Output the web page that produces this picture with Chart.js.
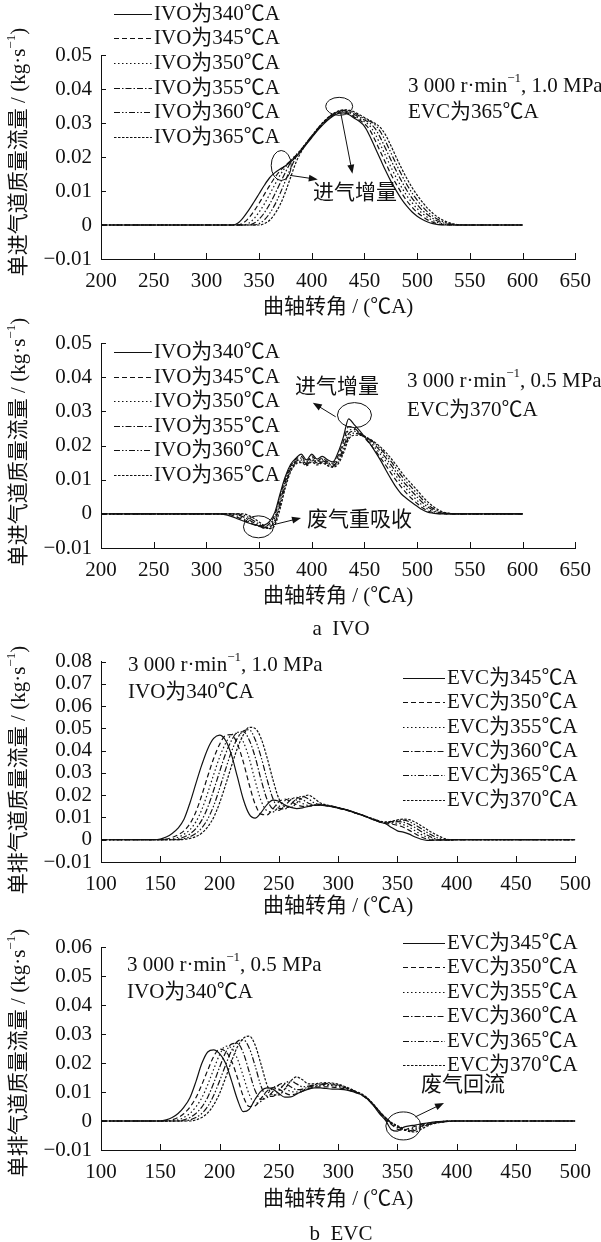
<!DOCTYPE html>
<html>
<head>
<meta charset="utf-8">
<title>IVO / EVC mass flow</title>
<script src="https://cdn.jsdelivr.net/npm/chart.js@4.4.1/dist/chart.umd.min.js"></script>
<style>
  html, body { margin: 0; padding: 0; background: #fff; }
  #fig { position: relative; width: 601px; height: 1242px; overflow: hidden; }
  #fig canvas { position: absolute; left: 0; }
  .cap {
    position: absolute; left: 241px; width: 200px; text-align: center;
    font: 21px "Liberation Serif", "Noto Sans CJK SC", serif; color: #111; line-height: 24px;
  }
</style>
</head>
<body>
<div id="fig">
  <canvas id="a1" width="601" height="318" style="top:0"></canvas>
  <canvas id="a2" width="601" height="300" style="top:318px"></canvas>
  <div class="cap" style="top:616px">a&nbsp;&nbsp;IVO</div>
  <canvas id="b1" width="601" height="280" style="top:640px"></canvas>
  <canvas id="b2" width="601" height="300" style="top:920px"></canvas>
  <div class="cap" style="top:1221px">b&nbsp;&nbsp;EVC</div>
</div>
<script>
/* ---------------------------------------------------------
   Data (kg/s vs crank angle)
--------------------------------------------------------- */
const IVO_LABELS = ["IVO为340℃A", "IVO为345℃A", "IVO为350℃A", "IVO为355℃A", "IVO为360℃A", "IVO为365℃A"];
const EVC_LABELS = ["EVC为345℃A", "EVC为350℃A", "EVC为355℃A", "EVC为360℃A", "EVC为365℃A", "EVC为370℃A"];

const A_X_RANGE = [200, 650];
const B_X_RANGE = [100, 500];
const A_Y_RANGE = [-0.01, 0.05];
const B1_Y_RANGE = [-0.01, 0.08];
const B2_Y_RANGE = [-0.01, 0.06];

// a) IVO sweep, 1.0 MPa
const A1_DEG = [200,
  320, 325, 330, 335, 340, 345, 350, 355, 360, 365,
  370, 375, 380, 385, 390, 395, 400, 405, 410, 415,
  420, 425, 430, 435, 440, 445, 450, 455, 460, 465,
  470, 475, 480, 485, 490, 495, 500, 505, 510, 515,
  520, 525, 530, 535, 540, 545, 550,
  600];
const A1_IVO340 = [0,
  0, 0, 0.0006, 0.0022, 0.0043, 0.0067, 0.0092, 0.0117, 0.0139, 0.0154,
  0.0165, 0.0174, 0.0186, 0.0200, 0.0218, 0.0238, 0.0257, 0.0276, 0.0293, 0.0308,
  0.0320, 0.0328, 0.0330, 0.0325, 0.0315, 0.0305, 0.0290, 0.0262, 0.0228, 0.0194,
  0.0160, 0.0129, 0.0102, 0.0077, 0.0056, 0.0039, 0.0026, 0.0016, 0.0009, 0.0004,
  0.0001, 0, 0, 0, 0, 0, 0,
  0];
const A1_IVO345 = [0,
  0, 0, 0, 0.0006, 0.0020, 0.0040, 0.0064, 0.0090, 0.0116, 0.0140,
  0.0160, 0.0175, 0.0189, 0.0203, 0.0220, 0.0240, 0.0259, 0.0278, 0.0295, 0.0310,
  0.0322, 0.0330, 0.0333, 0.0328, 0.0318, 0.0309, 0.0298, 0.0280, 0.0250, 0.0216,
  0.0183, 0.0150, 0.0121, 0.0095, 0.0072, 0.0053, 0.0037, 0.0025, 0.0015, 0.0008,
  0.0003, 0.0001, 0, 0, 0, 0, 0,
  0];
const A1_IVO350 = [0,
  0, 0, 0, 0, 0.0005, 0.0018, 0.0038, 0.0062, 0.0090, 0.0119,
  0.0147, 0.0170, 0.0190, 0.0206, 0.0222, 0.0241, 0.0260, 0.0279, 0.0297, 0.0312,
  0.0324, 0.0332, 0.0335, 0.0331, 0.0322, 0.0313, 0.0304, 0.0292, 0.0268, 0.0237,
  0.0204, 0.0171, 0.0140, 0.0112, 0.0087, 0.0066, 0.0048, 0.0034, 0.0022, 0.0013,
  0.0007, 0.0003, 0.0001, 0, 0, 0, 0,
  0];
const A1_IVO355 = [0,
  0, 0, 0, 0, 0, 0.0005, 0.0017, 0.0036, 0.0061, 0.0091,
  0.0123, 0.0155, 0.0184, 0.0205, 0.0223, 0.0242, 0.0261, 0.0280, 0.0298, 0.0313,
  0.0325, 0.0333, 0.0336, 0.0334, 0.0326, 0.0317, 0.0309, 0.0300, 0.0284, 0.0257,
  0.0225, 0.0192, 0.0160, 0.0130, 0.0103, 0.0080, 0.0060, 0.0043, 0.0030, 0.0019,
  0.0011, 0.0006, 0.0002, 0, 0, 0, 0,
  0];
const A1_IVO360 = [0,
  0, 0, 0, 0, 0, 0, 0.0004, 0.0015, 0.0034, 0.0060,
  0.0093, 0.0130, 0.0167, 0.0199, 0.0222, 0.0243, 0.0262, 0.0281, 0.0299, 0.0314,
  0.0326, 0.0334, 0.0337, 0.0336, 0.0330, 0.0321, 0.0313, 0.0305, 0.0295, 0.0275,
  0.0246, 0.0213, 0.0180, 0.0149, 0.0120, 0.0095, 0.0073, 0.0054, 0.0038, 0.0026,
  0.0016, 0.0009, 0.0004, 0.0001, 0, 0, 0,
  0];
const A1_IVO365 = [0,
  0, 0, 0, 0, 0, 0, 0, 0.0004, 0.0014, 0.0033,
  0.0060, 0.0097, 0.0141, 0.0184, 0.0215, 0.0240, 0.0262, 0.0282, 0.0300, 0.0315,
  0.0327, 0.0335, 0.0339, 0.0338, 0.0333, 0.0325, 0.0316, 0.0308, 0.0299, 0.0287,
  0.0265, 0.0234, 0.0200, 0.0168, 0.0138, 0.0111, 0.0088, 0.0067, 0.0049, 0.0034,
  0.0022, 0.0013, 0.0007, 0.0003, 0.0001, 0, 0,
  0];

// a) IVO sweep, 0.5 MPa
const A2_DEG = [200,
  300, 305, 310, 315, 320, 325, 330, 335, 340, 345,
  350, 355, 360, 365, 370, 375, 380, 385, 390, 395,
  400, 405, 410, 415, 420, 425, 430, 435, 440, 445,
  450, 455, 460, 465, 470, 475, 480, 485, 490, 495,
  500, 505, 510, 515, 520, 525, 530, 535, 540,
  600];
const A2_IVO340 = [0,
  0, 0, 0, -0.0001, -0.0004, -0.0009, -0.0015, -0.0021, -0.0027, -0.0032,
  -0.0035, -0.0033, -0.0022, 0.0005, 0.0060, 0.0110, 0.0145, 0.0163, 0.0175, 0.0158,
  0.0175, 0.0160, 0.0168, 0.0158, 0.0152, 0.0180, 0.0225, 0.0278, 0.0262, 0.0245,
  0.0226, 0.0206, 0.0183, 0.0158, 0.0130, 0.0103, 0.0078, 0.0058, 0.0045, 0.0033,
  0.0022, 0.0012, 0.0005, 0.0002, 0, 0, 0, 0, 0,
  0];
const A2_IVO345 = [0,
  0, 0, 0, 0, -0.0001, -0.0005, -0.0011, -0.0018, -0.0025, -0.0031,
  -0.0036, -0.0038, -0.0028, -0.0002, 0.0052, 0.0105, 0.0140, 0.0160, 0.0168, 0.0152,
  0.0170, 0.0155, 0.0163, 0.0152, 0.0148, 0.0170, 0.0212, 0.0255, 0.0252, 0.0238,
  0.0222, 0.0205, 0.0186, 0.0165, 0.0143, 0.0120, 0.0098, 0.0078, 0.0060, 0.0044,
  0.0030, 0.0018, 0.0009, 0.0004, 0.0001, 0, 0, 0, 0,
  0];
const A2_IVO350 = [0,
  0, 0, 0, 0, 0, -0.0002, -0.0007, -0.0014, -0.0022, -0.0030,
  -0.0037, -0.0041, -0.0034, -0.0010, 0.0045, 0.0100, 0.0137, 0.0157, 0.0163, 0.0150,
  0.0165, 0.0152, 0.0160, 0.0150, 0.0145, 0.0163, 0.0202, 0.0245, 0.0247, 0.0238,
  0.0226, 0.0211, 0.0194, 0.0175, 0.0155, 0.0133, 0.0111, 0.0090, 0.0072, 0.0055,
  0.0039, 0.0025, 0.0014, 0.0007, 0.0003, 0.0001, 0, 0, 0,
  0];
const A2_IVO355 = [0,
  0, 0, 0, 0, 0, 0, -0.0003, -0.0009, -0.0017, -0.0026,
  -0.0035, -0.0042, -0.0040, -0.0018, 0.0035, 0.0093, 0.0133, 0.0154, 0.0158, 0.0147,
  0.0160, 0.0149, 0.0156, 0.0147, 0.0142, 0.0157, 0.0193, 0.0235, 0.0242, 0.0236,
  0.0228, 0.0216, 0.0201, 0.0184, 0.0165, 0.0144, 0.0122, 0.0101, 0.0083, 0.0066,
  0.0049, 0.0033, 0.0020, 0.0011, 0.0005, 0.0002, 0, 0, 0,
  0];
const A2_IVO360 = [0,
  0, 0, 0, 0, 0, 0, 0, -0.0004, -0.0011, -0.0020,
  -0.0030, -0.0039, -0.0043, -0.0026, 0.0025, 0.0085, 0.0128, 0.0150, 0.0154, 0.0144,
  0.0156, 0.0146, 0.0152, 0.0144, 0.0139, 0.0151, 0.0185, 0.0226, 0.0236, 0.0233,
  0.0227, 0.0218, 0.0206, 0.0191, 0.0174, 0.0154, 0.0133, 0.0112, 0.0093, 0.0076,
  0.0059, 0.0042, 0.0027, 0.0016, 0.0008, 0.0003, 0.0001, 0, 0,
  0];
const A2_IVO365 = [0,
  0, 0, 0, 0, 0, 0, 0, 0, -0.0005, -0.0013,
  -0.0024, -0.0035, -0.0043, -0.0033, 0.0015, 0.0077, 0.0123, 0.0146, 0.0150, 0.0141,
  0.0152, 0.0143, 0.0149, 0.0141, 0.0136, 0.0146, 0.0177, 0.0218, 0.0230, 0.0230,
  0.0226, 0.0219, 0.0209, 0.0196, 0.0181, 0.0163, 0.0143, 0.0122, 0.0103, 0.0086,
  0.0069, 0.0051, 0.0035, 0.0022, 0.0012, 0.0005, 0.0002, 0, 0,
  0];

// b) EVC sweep, both loads share one grid
const B_DEG = [100,
  145, 150, 155, 160, 165, 170, 175, 180, 185, 190,
  195, 200, 205, 210, 215, 220, 225, 230, 235, 240,
  245, 250, 255, 260, 265, 270, 275, 280, 285, 290,
  295, 300, 305, 310, 315, 320, 325, 330, 335, 340,
  345, 350, 355, 360, 365, 370, 375, 380, 385, 390,
  395, 400,
  500];

// b) 1.0 MPa
const B1_EVC345 = [0,
  0, 0.0003, 0.0012, 0.0028, 0.0052, 0.0092, 0.0165, 0.0252, 0.0336, 0.0408,
  0.0455, 0.0470, 0.0447, 0.0382, 0.0283, 0.0182, 0.0115, 0.0097, 0.0122, 0.0158,
  0.0178, 0.0173, 0.0156, 0.0145, 0.0140, 0.0143, 0.0150, 0.0155, 0.0155, 0.0152,
  0.0148, 0.0142, 0.0136, 0.0128, 0.0119, 0.0110, 0.0100, 0.0089, 0.0079, 0.0072,
  0.0055, 0.0040, 0.0034, 0.0025, 0.0012, 0.0002, -0.0003, -0.0002, 0, 0,
  0, 0,
  0];
const B1_EVC350 = [0,
  0, 0, 0.0003, 0.0010, 0.0022, 0.0040, 0.0072, 0.0125, 0.0200, 0.0285,
  0.0365, 0.0428, 0.0468, 0.0472, 0.0430, 0.0350, 0.0248, 0.0160, 0.0115, 0.0112,
  0.0138, 0.0170, 0.0182, 0.0172, 0.0158, 0.0150, 0.0150, 0.0154, 0.0156, 0.0153,
  0.0148, 0.0142, 0.0136, 0.0128, 0.0119, 0.0110, 0.0100, 0.0090, 0.0080, 0.0073,
  0.0070, 0.0065, 0.0056, 0.0042, 0.0027, 0.0013, 0.0003, -0.0002, -0.0002, 0,
  0, 0,
  0];
const B1_EVC355 = [0,
  0, 0, 0, 0.0003, 0.0011, 0.0024, 0.0045, 0.0080, 0.0135, 0.0210,
  0.0292, 0.0370, 0.0432, 0.0470, 0.0478, 0.0440, 0.0365, 0.0265, 0.0175, 0.0130,
  0.0125, 0.0148, 0.0175, 0.0186, 0.0178, 0.0163, 0.0154, 0.0154, 0.0156, 0.0154,
  0.0149, 0.0143, 0.0137, 0.0129, 0.0120, 0.0111, 0.0101, 0.0091, 0.0081, 0.0074,
  0.0074, 0.0074, 0.0068, 0.0056, 0.0040, 0.0024, 0.0011, 0.0002, -0.0002, -0.0001,
  0, 0,
  0];
const B1_EVC360 = [0,
  0, 0, 0, 0, 0.0004, 0.0012, 0.0026, 0.0050, 0.0088, 0.0145,
  0.0222, 0.0305, 0.0385, 0.0445, 0.0482, 0.0485, 0.0448, 0.0372, 0.0270, 0.0182,
  0.0138, 0.0132, 0.0152, 0.0180, 0.0190, 0.0180, 0.0164, 0.0157, 0.0157, 0.0154,
  0.0149, 0.0143, 0.0137, 0.0129, 0.0120, 0.0111, 0.0101, 0.0091, 0.0082, 0.0076,
  0.0078, 0.0081, 0.0079, 0.0069, 0.0054, 0.0037, 0.0021, 0.0008, 0, -0.0002,
  -0.0001, 0,
  0];
const B1_EVC365 = [0,
  0, 0, 0, 0, 0, 0.0005, 0.0013, 0.0028, 0.0053, 0.0093,
  0.0152, 0.0230, 0.0315, 0.0395, 0.0455, 0.0488, 0.0494, 0.0450, 0.0372, 0.0272,
  0.0185, 0.0142, 0.0138, 0.0158, 0.0185, 0.0195, 0.0183, 0.0165, 0.0158, 0.0155,
  0.0150, 0.0144, 0.0138, 0.0130, 0.0121, 0.0112, 0.0102, 0.0092, 0.0083, 0.0078,
  0.0081, 0.0086, 0.0088, 0.0081, 0.0067, 0.0050, 0.0033, 0.0018, 0.0006, -0.0001,
  -0.0002, 0,
  0];
const B1_EVC370 = [0,
  0, 0, 0, 0, 0, 0.0002, 0.0006, 0.0014, 0.0030, 0.0058,
  0.0100, 0.0165, 0.0245, 0.0330, 0.0410, 0.0470, 0.0505, 0.0500, 0.0455, 0.0370,
  0.0270, 0.0185, 0.0148, 0.0145, 0.0165, 0.0192, 0.0200, 0.0185, 0.0165, 0.0157,
  0.0151, 0.0145, 0.0138, 0.0130, 0.0121, 0.0112, 0.0102, 0.0093, 0.0084, 0.0080,
  0.0083, 0.0089, 0.0093, 0.0090, 0.0079, 0.0063, 0.0046, 0.0030, 0.0016, 0.0005,
  -0.0001, 0,
  0];

// b) 0.5 MPa
const B2_EVC345 = [0,
  0, 0, 0.0004, 0.0012, 0.0026, 0.0048, 0.0080, 0.0135, 0.0198, 0.0238,
  0.0245, 0.0232, 0.0200, 0.0140, 0.0075, 0.0032, 0.0040, 0.0075, 0.0103, 0.0114,
  0.0110, 0.0095, 0.0082, 0.0083, 0.0093, 0.0103, 0.0110, 0.0114, 0.0114, 0.0112,
  0.0110, 0.0110, 0.0108, 0.0104, 0.0098, 0.0090, 0.0075, 0.0052, 0.0025, 0.0002,
  -0.0030, -0.0035, -0.0022, -0.0017, -0.0014, -0.0010, -0.0007, -0.0004, -0.0002, -0.0001,
  0, 0,
  0];
const B2_EVC350 = [0,
  0, 0, 0, 0.0004, 0.0012, 0.0026, 0.0048, 0.0080, 0.0125, 0.0175,
  0.0222, 0.0248, 0.0240, 0.0208, 0.0150, 0.0085, 0.0050, 0.0052, 0.0078, 0.0103,
  0.0115, 0.0110, 0.0097, 0.0090, 0.0094, 0.0103, 0.0111, 0.0116, 0.0118, 0.0118,
  0.0117, 0.0115, 0.0111, 0.0105, 0.0098, 0.0089, 0.0074, 0.0053, 0.0028, 0.0006,
  -0.0012, -0.0028, -0.0032, -0.0025, -0.0018, -0.0012, -0.0008, -0.0005, -0.0002, -0.0001,
  0, 0,
  0];
const B2_EVC355 = [0,
  0, 0, 0, 0, 0.0004, 0.0012, 0.0026, 0.0048, 0.0080, 0.0125,
  0.0178, 0.0228, 0.0258, 0.0252, 0.0215, 0.0155, 0.0092, 0.0062, 0.0068, 0.0092,
  0.0114, 0.0122, 0.0114, 0.0102, 0.0100, 0.0106, 0.0114, 0.0119, 0.0122, 0.0123,
  0.0122, 0.0119, 0.0114, 0.0107, 0.0099, 0.0090, 0.0075, 0.0054, 0.0030, 0.0008,
  -0.0010, -0.0022, -0.0032, -0.0030, -0.0022, -0.0015, -0.0010, -0.0006, -0.0003, -0.0001,
  0, 0,
  0];
const B2_EVC360 = [0,
  0, 0, 0, 0, 0, 0.0004, 0.0012, 0.0026, 0.0048, 0.0082,
  0.0130, 0.0185, 0.0235, 0.0265, 0.0268, 0.0235, 0.0170, 0.0105, 0.0075, 0.0080,
  0.0102, 0.0125, 0.0130, 0.0118, 0.0108, 0.0110, 0.0117, 0.0122, 0.0125, 0.0126,
  0.0125, 0.0122, 0.0116, 0.0108, 0.0100, 0.0091, 0.0076, 0.0055, 0.0031, 0.0010,
  -0.0008, -0.0020, -0.0030, -0.0034, -0.0027, -0.0018, -0.0012, -0.0007, -0.0004, -0.0002,
  0, 0,
  0];
const B2_EVC365 = [0,
  0, 0, 0, 0, 0, 0, 0.0004, 0.0012, 0.0026, 0.0050,
  0.0088, 0.0138, 0.0192, 0.0242, 0.0274, 0.0280, 0.0252, 0.0190, 0.0120, 0.0085,
  0.0085, 0.0105, 0.0128, 0.0138, 0.0128, 0.0118, 0.0120, 0.0125, 0.0128, 0.0129,
  0.0128, 0.0124, 0.0118, 0.0110, 0.0101, 0.0092, 0.0077, 0.0056, 0.0032, 0.0011,
  -0.0006, -0.0018, -0.0028, -0.0036, -0.0032, -0.0022, -0.0014, -0.0008, -0.0005, -0.0002,
  -0.0001, 0,
  0];
const B2_EVC370 = [0,
  0, 0, 0, 0, 0, 0, 0, 0.0004, 0.0012, 0.0028,
  0.0055, 0.0095, 0.0148, 0.0205, 0.0255, 0.0285, 0.0293, 0.0262, 0.0195, 0.0125,
  0.0090, 0.0090, 0.0110, 0.0138, 0.0152, 0.0142, 0.0128, 0.0128, 0.0131, 0.0132,
  0.0131, 0.0127, 0.0120, 0.0112, 0.0102, 0.0093, 0.0078, 0.0057, 0.0033, 0.0012,
  -0.0005, -0.0016, -0.0026, -0.0036, -0.0038, -0.0028, -0.0018, -0.0010, -0.0006, -0.0003,
  -0.0001, 0,
  0];

/* ---------------------------------------------------------
   Styling helpers
--------------------------------------------------------- */
const INK = "#111";
const SERIF = '"Liberation Serif", "Noto Sans CJK SC", serif';
const SIZE = 21;
// solid, dash, dot, dash-dot, dash-dot-dot, short dash
const DASHES = [[], [5, 3], [1.5, 2.5], [6, 2, 1.5, 2], [6, 2, 1.5, 2, 1.5, 2], [2.5, 1.5]];

const font = (px) => `${px}px ${SERIF}`;
const fmtY = (v) => (Math.abs(v) < 1e-9 ? "0" : (v < 0 ? "−" : "") + Math.abs(v).toFixed(2));

// text with optional superscript pieces: ["3 000 r·min", { sup: "−1" }, ", 1.0 MPa"]
function richText(ctx, parts, x, y, align) {
  const pieces = parts.map((p) => (typeof p === "string" ? { t: p, s: SIZE, dy: 0 } : { t: p.sup, s: 13, dy: -7 }));
  let w = 0;
  pieces.forEach((p) => { ctx.font = font(p.s); p.w = ctx.measureText(p.t).width; w += p.w; });
  let cx = align === "center" ? x - w / 2 : x;
  ctx.textAlign = "left";
  ctx.textBaseline = "middle";
  pieces.forEach((p) => { ctx.font = font(p.s); ctx.fillText(p.t, cx, y + p.dy); cx += p.w; });
}

function arrow(ctx, x0, y0, x1, y1) {
  const ang = Math.atan2(y1 - y0, x1 - x0);
  const len = 9, half = 3.5;
  ctx.beginPath();
  ctx.moveTo(x0, y0);
  ctx.lineTo(x1 - Math.cos(ang) * len * 0.8, y1 - Math.sin(ang) * len * 0.8);
  ctx.stroke();
  ctx.beginPath();
  ctx.moveTo(x1, y1);
  ctx.lineTo(x1 - Math.cos(ang) * len - Math.sin(ang) * half, y1 - Math.sin(ang) * len + Math.cos(ang) * half);
  ctx.lineTo(x1 - Math.cos(ang) * len + Math.sin(ang) * half, y1 - Math.sin(ang) * len - Math.cos(ang) * half);
  ctx.closePath();
  ctx.fill();
}

// inward ticks, axis titles, legend and annotations
const decor = {
  id: "decor",
  afterDraw(chart, _args, o) {
    const { ctx, chartArea: a } = chart;
    const xs = chart.scales.x, ys = chart.scales.y;
    ctx.save();
    ctx.strokeStyle = INK;
    ctx.fillStyle = INK;
    ctx.lineWidth = 1;

    ctx.beginPath();
    xs.ticks.forEach((t) => {
      const px = Math.round(xs.getPixelForValue(t.value)) + 0.5;
      ctx.moveTo(px, a.bottom); ctx.lineTo(px, a.bottom - 6);
    });
    ys.ticks.forEach((t) => {
      const py = Math.round(ys.getPixelForValue(t.value)) + 0.5;
      ctx.moveTo(a.left, py); ctx.lineTo(a.left + 5, py);
    });
    ctx.stroke();

    richText(ctx, ["曲轴转角 / (℃A)"], (a.left + a.right) / 2, a.bottom + o.xTitleGap, "center");
    ctx.save();
    ctx.translate(19, o.yTitleY);
    ctx.rotate(-Math.PI / 2);
    richText(ctx, [o.yTitle + " / (kg·s", { sup: "−1" }, ")"], 0, 0, "center");
    ctx.restore();

    const lg = o.legend;
    ctx.lineWidth = 1.2;
    chart.data.datasets.forEach((ds, i) => {
      const ly = Math.round(lg.y + i * lg.dy) + 0.5;
      ctx.setLineDash(ds.borderDash);
      ctx.beginPath(); ctx.moveTo(lg.x1, ly); ctx.lineTo(lg.x2, ly); ctx.stroke();
      ctx.setLineDash([]);
      richText(ctx, [ds.label], lg.x2 + 2, ly, "left");
    });
    ctx.lineWidth = 1;

    (o.notes || []).forEach((n) => richText(ctx, n.parts, n.x, n.y, "left"));
    (o.rings || []).forEach((r) => {
      ctx.beginPath();
      ctx.ellipse(xs.getPixelForValue(r.x), ys.getPixelForValue(r.y), r.rx, r.ry, 0, 0, Math.PI * 2);
      ctx.stroke();
    });
    (o.arrows || []).forEach((r) => {
      arrow(ctx, xs.getPixelForValue(r.from[0]), ys.getPixelForValue(r.from[1]),
        xs.getPixelForValue(r.to[0]), ys.getPixelForValue(r.to[1]));
    });
    ctx.restore();
  },
};

function drawPanel(id, deg, series, labels, xRange, yRange, pad, decorOpts) {
  const tickFont = { family: SERIF, size: SIZE };
  new Chart(document.getElementById(id), {
    type: "line",
    data: {
      datasets: series.map((ys, i) => ({
        label: labels[i],
        data: deg.map((x, k) => ({ x, y: ys[k] })),
        borderColor: INK,
        borderWidth: 1.2,
        borderDash: DASHES[i],
        pointRadius: 0,
        fill: false,
        cubicInterpolationMode: "monotone",
      })),
    },
    options: {
      responsive: false,
      animation: false,
      events: [],
      layout: { padding: pad },
      plugins: { legend: { display: false }, tooltip: { enabled: false }, decor: decorOpts },
      scales: {
        x: {
          type: "linear",
          min: xRange[0],
          max: xRange[1],
          grid: { display: false, drawTicks: false },
          border: { display: true, color: INK, width: 1 },
          ticks: { stepSize: 50, autoSkip: false, maxRotation: 0, padding: 10, color: INK, font: tickFont },
          afterFit: (s) => { s.height = 30; },
        },
        y: {
          min: yRange[0],
          max: yRange[1],
          grid: { display: false, drawTicks: false },
          border: { display: true, color: INK, width: 1 },
          ticks: { stepSize: 0.01, autoSkip: false, padding: 9, color: INK, font: tickFont, callback: fmtY },
          afterFit: (s) => { s.width = 70; },
        },
      },
    },
    plugins: [decor],
  });
}

/* ---------------------------------------------------------
   Panels
--------------------------------------------------------- */
drawPanel("a1", A1_DEG, [A1_IVO340, A1_IVO345, A1_IVO350, A1_IVO355, A1_IVO360, A1_IVO365],
  IVO_LABELS, A_X_RANGE, A_Y_RANGE, { top: 55, left: 31, right: 21, bottom: 29 }, {
    xTitleGap: 48, yTitleY: 152, yTitle: "单进气道质量流量",
    legend: { x1: 114, x2: 152, y: 13.5, dy: 24.7 },
    notes: [
      { x: 408, y: 86, parts: ["3 000 r·min", { sup: "−1" }, ", 1.0 MPa"] },
      { x: 408, y: 112, parts: ["EVC为365℃A"] },
      { x: 313, y: 193, parts: ["进气增量"] },
    ],
    rings: [{ x: 371, y: 0.0175, rx: 10, ry: 15 }, { x: 426, y: 0.0349, rx: 13.5, ry: 9 }],
    arrows: [{ from: [379.4, 0.0146], to: [405.7, 0.0134] }, { from: [427.4, 0.0331], to: [438.6, 0.0151] }],
  });

drawPanel("a2", A2_DEG, [A2_IVO340, A2_IVO345, A2_IVO350, A2_IVO355, A2_IVO360, A2_IVO365],
  IVO_LABELS, A_X_RANGE, A_Y_RANGE, { top: 25, left: 31, right: 21, bottom: 40 }, {
    xTitleGap: 48, yTitleY: 124, yTitle: "单进气道质量流量",
    legend: { x1: 114, x2: 152, y: 34, dy: 24.5 },
    notes: [
      { x: 407, y: 63, parts: ["3 000 r·min", { sup: "−1" }, ", 0.5 MPa"] },
      { x: 407, y: 92, parts: ["EVC为370℃A"] },
      { x: 295, y: 69, parts: ["进气增量"] },
      { x: 307, y: 202, parts: ["废气重吸收"] },
    ],
    rings: [{ x: 440.5, y: 0.0289, rx: 17, ry: 12.5 }, { x: 349.4, y: -0.0038, rx: 15, ry: 11 }],
    arrows: [{ from: [422.7, 0.0284], to: [401, 0.0325] }, { from: [363.5, -0.0032], to: [389.8, -0.0012] }],
  });

drawPanel("b1", B_DEG, [B1_EVC345, B1_EVC350, B1_EVC355, B1_EVC360, B1_EVC365, B1_EVC370],
  EVC_LABELS, B_X_RANGE, B1_Y_RANGE, { top: 15, left: 31, right: 23, bottom: 28 }, {
    xTitleGap: 44, yTitleY: 130, yTitle: "单排气道质量流量",
    legend: { x1: 403, x2: 445, y: 38, dy: 24.3 },
    notes: [
      { x: 128, y: 25, parts: ["3 000 r·min", { sup: "−1" }, ", 1.0 MPa"] },
      { x: 128, y: 52, parts: ["IVO为340℃A"] },
    ],
  });

drawPanel("b2", B_DEG, [B2_EVC345, B2_EVC350, B2_EVC355, B2_EVC360, B2_EVC365, B2_EVC370],
  EVC_LABELS, B_X_RANGE, B2_Y_RANGE, { top: 27, left: 31, right: 23, bottom: 40 }, {
    xTitleGap: 49, yTitleY: 133, yTitle: "单排气道质量流量",
    legend: { x1: 403, x2: 445, y: 23, dy: 24.4 },
    notes: [
      { x: 127, y: 45, parts: ["3 000 r·min", { sup: "−1" }, ", 0.5 MPa"] },
      { x: 127, y: 72, parts: ["IVO为340℃A"] },
      { x: 421, y: 165, parts: ["废气回流"] },
    ],
    rings: [{ x: 355, y: -0.0017, rx: 17.5, ry: 14 }],
    arrows: [{ from: [365, 0.0014], to: [389.3, 0.0062] }],
  });
</script>
</body>
</html>
